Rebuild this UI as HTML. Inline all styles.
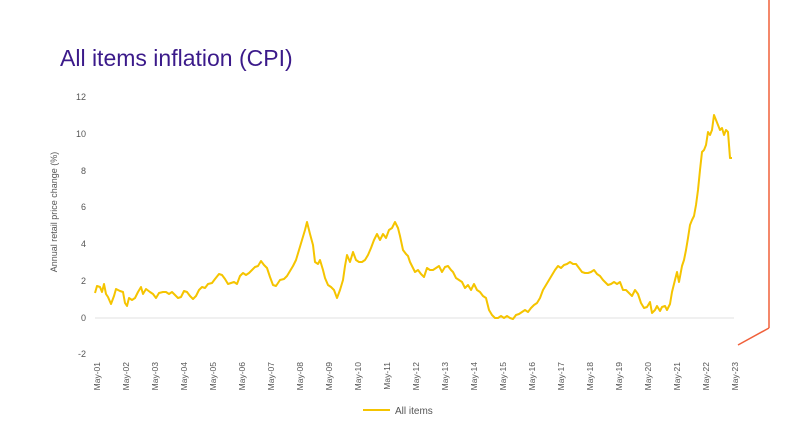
<!DOCTYPE html>
<html><head><meta charset="utf-8"><style>
body{margin:0;background:#fff;width:800px;height:430px;overflow:hidden;font-family:"Liberation Sans",sans-serif}
</style></head><body>
<svg width="800" height="430" xmlns="http://www.w3.org/2000/svg" font-family="Liberation Sans, sans-serif">
<text x="60" y="66" font-size="23" fill="#3b1a8a">All items inflation (CPI)</text>
<line x1="769" y1="0" x2="769" y2="328" stroke="#f0603a" stroke-width="1.5"/>
<line x1="769" y1="328" x2="738" y2="345" stroke="#f0603a" stroke-width="1.5"/>
<g font-size="9" fill="#555" text-anchor="end">
<text x="86" y="100">12</text><text x="86" y="137">10</text><text x="86" y="174">8</text>
<text x="86" y="210">6</text><text x="86" y="247">4</text><text x="86" y="284">2</text>
<text x="86" y="321">0</text><text x="86" y="357">-2</text>
</g>
<text transform="translate(57,212) rotate(-90)" font-size="9" fill="#555" text-anchor="middle">Annual retail price change (%)</text>
<line x1="95" y1="318" x2="734" y2="318" stroke="#e0e0e0" stroke-width="1"/>
<polyline fill="none" stroke="#f5c400" stroke-width="2" stroke-linejoin="round" points="95,293 97,286 100,287 102,292 104,284 106,294 108,297 111,304 114,296 116,289 120,291 123,292 125,303 127,306 129,298 132,300 135,298 138,292 141,287 143,294 146,289 150,292 153,294 156,298 159,293 163,292 166,292 169,294 172,292 175,295 178,298 181,297 184,291 187,292 190,296 193,299 196,296 199,290 202,287 205,288 208,284 212,283 215,279 219,274 222,275 225,279 228,284 231,283 234,282 237,284 240,276 243,273 246,275 249,273 252,270 255,267 258,266 261,261 264,265 267,268 270,277 273,285 276,286 280,280 284,279 287,276 290,271 293,266 296,260 299,250 302,240 305,230 307,222 310,234 313,245 315,262 318,264 320,260 323,270 325,278 328,285 331,287 334,290 337,298 340,290 343,280 345,266 347,255 350,262 353,252 356,260 359,262 362,262 365,260 368,255 371,248 374,240 377,234 380,240 383,234 386,238 389,230 392,228 395,222 398,228 400,236 403,250 406,254 408,256 410,262 413,268 415,272 418,270 421,274 424,277 427,268 430,270 433,270 436,268 439,266 442,272 445,267 448,266 451,270 453,272 456,278 459,280 462,282 465,288 468,285 471,290 474,284 477,290 480,292 483,296 486,298 489,310 492,315 495,318 498,318 501,316 504,318 507,316 510,318 513,319 516,315 519,314 522,312 525,310 528,312 531,308 534,305 537,303 540,298 543,290 546,285 549,280 552,275 555,270 558,266 561,268 564,265 567,264 570,262 573,264 576,264 579,268 582,272 585,273 588,273 591,272 594,270 597,274 600,276 603,280 606,283 608,285 611,284 614,282 617,284 620,282 623,290 626,290 629,293 632,296 635,290 638,294 641,303 644,308 647,307 650,302 652,313 655,310 657,306 660,311 662,307 665,306 667,310 670,304 672,292 675,280 677,272 679,282 682,266 684,260 686,250 688,238 690,225 692,220 694,216 696,205 698,190 700,170 702,152 704,150 706,145 708,132 710,135 712,130 714,115 716,120 718,125 720,130 722,128 724,135 726,130 728,132 730,158 732,158"/>
<g font-size="8.5" fill="#555" text-anchor="end">
<text transform="translate(100,362) rotate(-90)">May-01</text>
<text transform="translate(129,362) rotate(-90)">May-02</text>
<text transform="translate(158,362) rotate(-90)">May-03</text>
<text transform="translate(187,362) rotate(-90)">May-04</text>
<text transform="translate(216,362) rotate(-90)">May-05</text>
<text transform="translate(245,362) rotate(-90)">May-06</text>
<text transform="translate(274,362) rotate(-90)">May-07</text>
<text transform="translate(303,362) rotate(-90)">May-08</text>
<text transform="translate(332,362) rotate(-90)">May-09</text>
<text transform="translate(361,362) rotate(-90)">May-10</text>
<text transform="translate(390,362) rotate(-90)">May-11</text>
<text transform="translate(419,362) rotate(-90)">May-12</text>
<text transform="translate(448,362) rotate(-90)">May-13</text>
<text transform="translate(477,362) rotate(-90)">May-14</text>
<text transform="translate(506,362) rotate(-90)">May-15</text>
<text transform="translate(535,362) rotate(-90)">May-16</text>
<text transform="translate(564,362) rotate(-90)">May-17</text>
<text transform="translate(593,362) rotate(-90)">May-18</text>
<text transform="translate(622,362) rotate(-90)">May-19</text>
<text transform="translate(651,362) rotate(-90)">May-20</text>
<text transform="translate(680,362) rotate(-90)">May-21</text>
<text transform="translate(709,362) rotate(-90)">May-22</text>
<text transform="translate(738,362) rotate(-90)">May-23</text>
</g>
<line x1="363" y1="410" x2="390" y2="410" stroke="#f5c400" stroke-width="2"/>
<text x="395" y="414" font-size="10" fill="#555">All items</text>
</svg>
</body></html>
